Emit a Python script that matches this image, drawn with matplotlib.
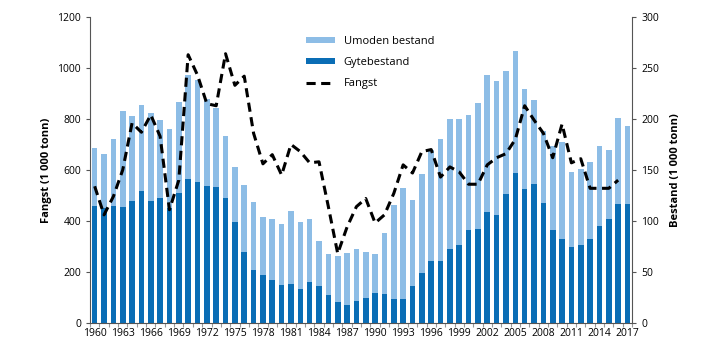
import numpy as np
import matplotlib
matplotlib.use("Agg")
import matplotlib.pyplot as plt
from matplotlib.patches import Patch
from matplotlib.lines import Line2D

plt.rcParams["font.family"] = ["Open Sans", "DejaVu Sans"]

years = list(range(1960, 2018))

# Gytebestand (1 000 tonn)
gyte = [459, 450, 459, 455, 478, 518, 478, 490, 450, 510,
        565, 553, 536, 535, 490, 397, 280, 208, 188, 169,
        149, 153, 133, 160, 145, 110, 82, 71, 84, 98,
        116, 114, 93, 94, 146, 195, 242, 242, 291, 306,
        365, 370, 437, 424, 506, 590, 526, 543, 471, 364,
        330, 296, 306, 331, 381, 406, 467, 467]

# Total bestand (gyte + umoden)
total = [685, 661, 722, 831, 812, 854, 822, 797, 761, 868,
         971, 953, 878, 844, 733, 613, 541, 476, 416, 408,
         389, 440, 397, 407, 322, 269, 264, 275, 291, 277,
         269, 353, 461, 529, 481, 584, 678, 722, 799, 799,
         814, 863, 973, 949, 987, 1066, 918, 875, 752, 695,
         711, 591, 605, 631, 694, 679, 802, 773]

# Fangst (1 000 tonn), right axis, 1960-2016
fangst = [134, 106, 124, 150, 196, 187, 204, 183, 111, 140,
          263, 243, 215, 213, 264, 233, 242, 186, 156, 165,
          145, 175, 168, 157, 158, 114, 68, 94, 114, 122,
          98, 106, 127, 155, 147, 168, 170, 143, 153, 148,
          136, 136, 155, 162, 166, 180, 213, 199, 186, 162,
          195, 157, 161, 132, 132, 132, 140]

umoden = [t - g for t, g in zip(total, gyte)]

DARK = "#0a6db5"
LIGHT = "#8dbde6"

fig = plt.figure(figsize=(7.2, 3.62), dpi=100)
ax = fig.add_axes([0.125, 0.108, 0.753, 0.845])
x = np.arange(len(years))

ax.bar(x, gyte, width=0.6, color=DARK, zorder=2)
ax.bar(x, umoden, bottom=gyte, width=0.6, color=LIGHT, zorder=2)

ax.set_xlim(-0.5, len(years) - 0.5)
ax.set_ylim(0, 1200)
ax.set_yticks(range(0, 1201, 200))
ax.set_xticks(x[::3])
ax.set_xticklabels([str(y) for y in years[::3]])
ax.set_xticks(np.arange(-0.5, len(years), 1), minor=True)
ax.tick_params(axis="x", which="major", length=0, labelsize=7.5, pad=4)
ax.tick_params(axis="x", which="minor", length=3, color="#999999", width=0.8)
ax.tick_params(axis="y", labelsize=7.5, length=3, color="#555555", width=0.8)
ax.set_ylabel("Fangst (1 000 tonn)", fontsize=8, fontweight="bold")
for s in ["top", "right"]:
    ax.spines[s].set_visible(False)
for s in ["left", "bottom"]:
    ax.spines[s].set_color("#555555")
    ax.spines[s].set_linewidth(0.8)

ax2 = ax.twinx()
ax2.plot(x[:len(fangst)], fangst, color="black", lw=2.2, dashes=(3, 1.8), zorder=3)
ax2.set_ylim(0, 300)
ax2.set_yticks(range(0, 301, 50))
ax2.tick_params(axis="y", labelsize=7.5, length=3, color="#555555", width=0.8)
ax2.set_ylabel("Bestand (1 000 tonn)", fontsize=8, fontweight="bold", labelpad=8)
for s in ["top", "left", "bottom"]:
    ax2.spines[s].set_visible(False)
ax2.spines["right"].set_color("#555555")
ax2.spines["right"].set_linewidth(0.8)

handles = [
    Patch(facecolor=LIGHT, label="Umoden bestand"),
    Patch(facecolor=DARK, label="Gytebestand"),
    Line2D([0], [0], color="black", lw=2.2, dashes=(3, 1.8), label="Fangst"),
]
ax2.legend(handles=handles, loc="upper left", bbox_to_anchor=(0.38, 0.97),
           frameon=False, fontsize=8, handlelength=2.6, handleheight=0.5,
           labelspacing=0.9)

fig.savefig("out.png", dpi=100)
